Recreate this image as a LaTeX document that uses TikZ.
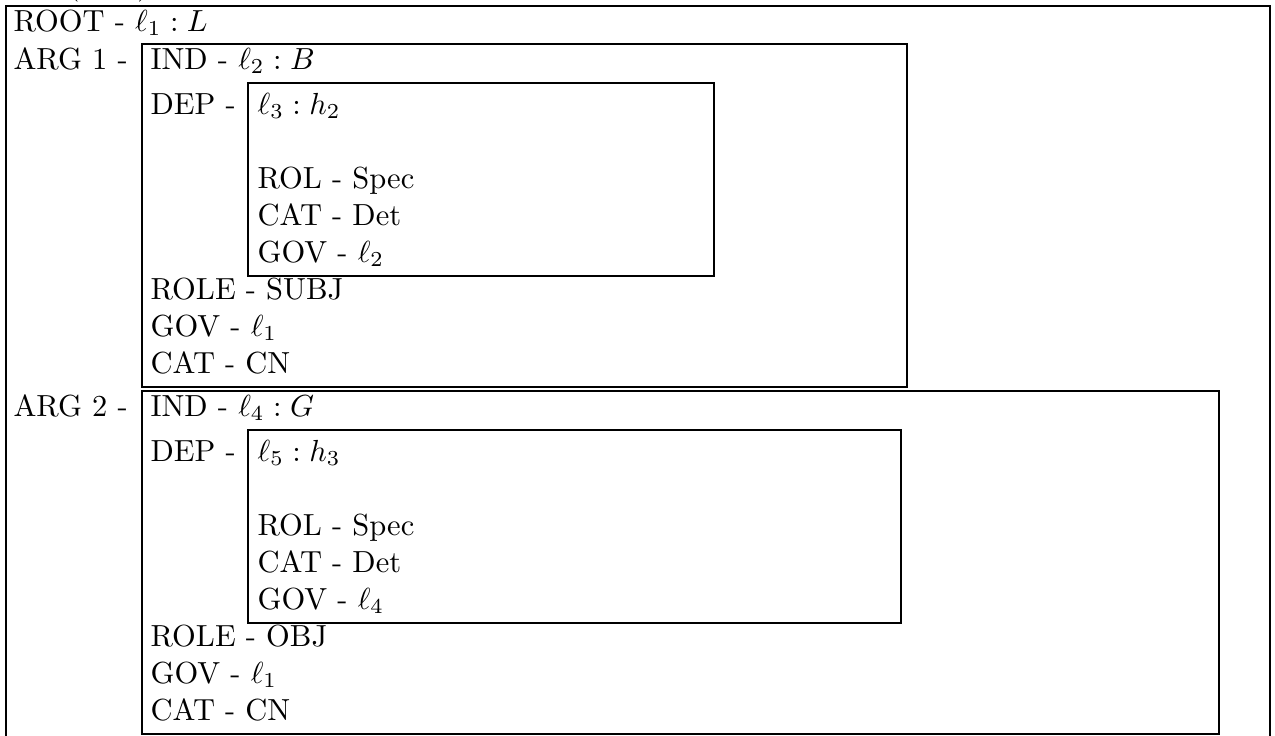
\documentclass[tikz,border=0pt]{standalone}
\tikzset{
  txt/.style={anchor=base west, inner sep=0pt, font=\fontsize{10}{12}\selectfont},
  frame/.style={draw=black, line width=0.4pt},
}
\begin{document}
\begin{tikzpicture}[x=0.3279pt,y=-0.3279pt]
\useasboundingbox (0,0) rectangle (1275,736);
\clip (0,0) rectangle (1275,736);
% cropped caption
\node[txt] (cap) at (67,-6) {(\hspace{19pt})};
% outer frame
\draw[frame] (6,6) rectangle (1270,760);
% ARG boxes
\draw[frame] (142,44) rectangle (907,387);
\draw[frame] (248,83) rectangle (714,276);
\draw[frame] (142,391) rectangle (1219,734);
\draw[frame] (248,430) rectangle (901,623);
% texts
\node[txt] (root) at (13,31) {ROOT - $\ell_1 : L$};
\node[txt] (arg1) at (13,69) {ARG 1 -};
\node[txt] (ind1) at (150,69) {IND - $\ell_2 : B$};
\node[txt] (dep1) at (150,114) {DEP -};
\node[txt] (lh1) at (257,114) {$\ell_3 : h_2$};
\node[txt] (rol1) at (257,188) {ROL - Spec};
\node[txt] (cat1) at (257,225) {CAT - Det};
\node[txt] (gov1) at (257,262) {GOV - $\ell_2$};
\node[txt] (role1) at (150,299) {ROLE - SUBJ};
\node[txt] (govb1) at (150,336) {GOV - $\ell_1$};
\node[txt] (catb1) at (150,373) {CAT - CN};
\node[txt] (arg2) at (13,416) {ARG 2 -};
\node[txt] (ind2) at (150,416) {IND - $\ell_4 : G$};
\node[txt] (dep2) at (150,461) {DEP -};
\node[txt] (lh2) at (257,461) {$\ell_5 : h_3$};
\node[txt] (rol2) at (257,535) {ROL - Spec};
\node[txt] (cat2) at (257,572) {CAT - Det};
\node[txt] (gov2) at (257,609) {GOV - $\ell_4$};
\node[txt] (role2) at (150,646) {ROLE - OBJ};
\node[txt] (govb2) at (150,683) {GOV - $\ell_1$};
\node[txt] (catb2) at (150,720) {CAT - CN};
\end{tikzpicture}
\end{document}
